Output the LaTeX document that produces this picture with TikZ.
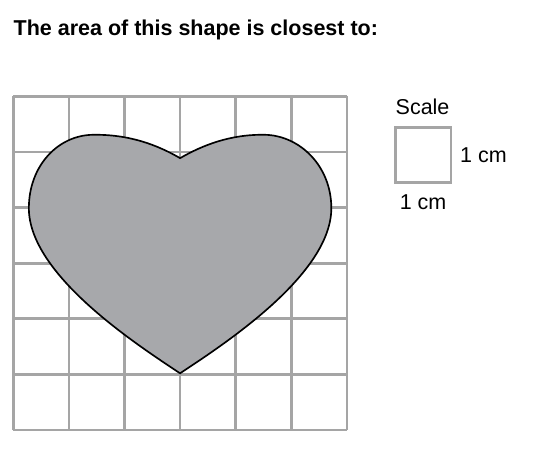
\documentclass[tikz,border=0pt]{standalone}
\usepackage{fontspec}
\setmainfont{Liberation Sans}
\usetikzlibrary{positioning}
\definecolor{gridgray}{RGB}{165,165,165}
\definecolor{heartgray}{RGB}{167,168,171}
\tikzset{labeltext/.style={inner sep=0pt, font=\fontsize{11}{13}\selectfont},
  gridline/.style={draw=gridgray, line width=1.4pt}}

\begin{document}
\begin{tikzpicture}
  \useasboundingbox (-0.239,-0.414) rectangle (9.563,7.734);
  \node[anchor=west, inner sep=0pt, font=\bfseries\fontsize{11}{13}\selectfont] (title) at (0,7.19) {The area of this shape is closest to:};
  \draw[gridline] (0,0) grid (6,6);
  \draw[fill=heartgray, line width=0.85pt] (3,1.02)
    .. controls (2.2,1.55) and (0.28,2.8) .. (0.28,3.99)
    .. controls (0.28,4.75) and (0.8,5.3) .. (1.43,5.31)
    .. controls (2.1,5.32) and (2.6,5.12) .. (3,4.89)
    .. controls (3.4,5.12) and (3.9,5.32) .. (4.52,5.31)
    .. controls (5.15,5.3) and (5.72,4.75) .. (5.72,3.99)
    .. controls (5.72,2.8) and (3.8,1.55) .. (3,1.02) -- cycle;
  \node[gridline, minimum size=1cm, inner sep=0pt, outer sep=0pt] (unit) at (7.37,4.946) {};
  \node[labeltext, above right=0.21cm and 0cm of unit.north west] (scale) {Scale};
  \node[labeltext, right=0.16cm of unit] (side) {1 cm};
  \node[labeltext, below=0.21cm of unit] (base) {1 cm};
\end{tikzpicture}
\end{document}
